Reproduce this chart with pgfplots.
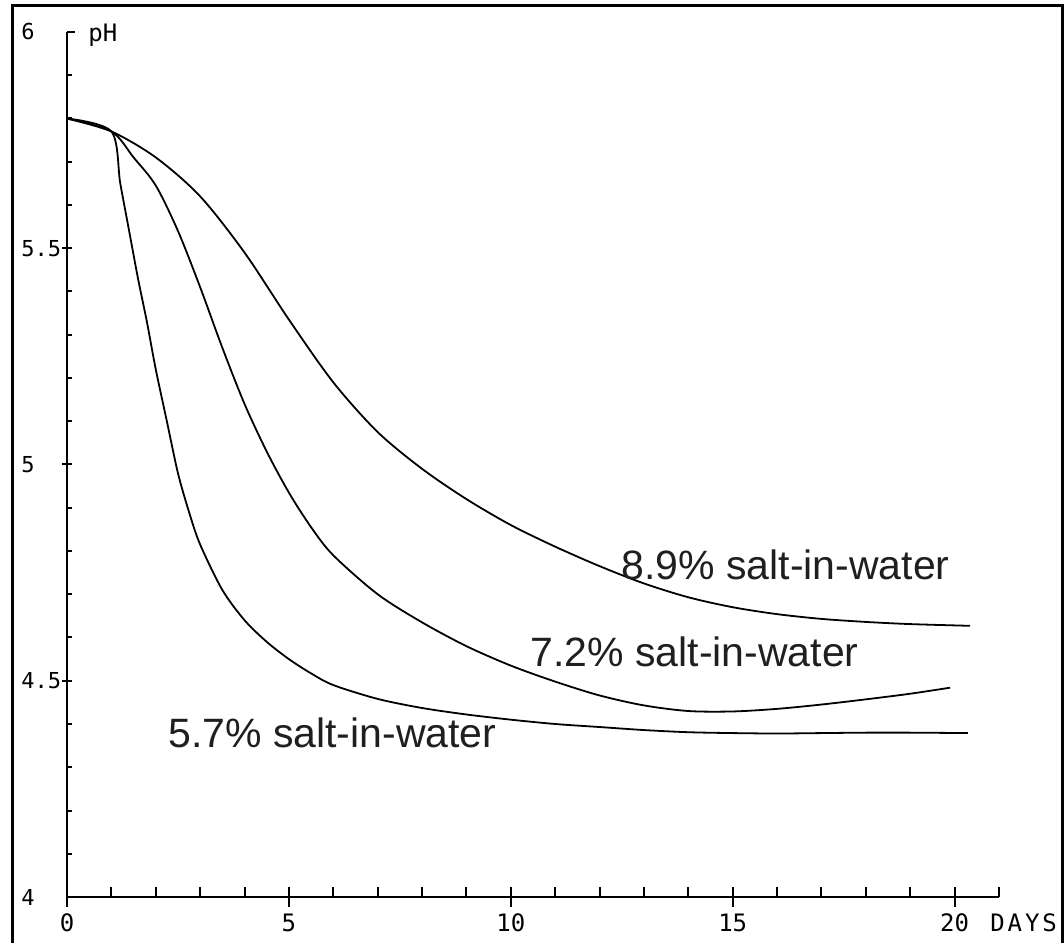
\documentclass[border=0pt]{standalone}
\usepackage{fontspec}
\setmainfont{Liberation Sans}
\newfontfamily\plotfont{DejaVu Sans Mono}
\usepackage{pgfplots}
\pgfplotsset{compat=1.18}
\begin{document}
\begin{tikzpicture}
\useasboundingbox (0,0) rectangle (532pt,471pt);
\draw[line width=1.5pt] (6pt,-10pt) rectangle (531pt,468pt);
\begin{axis}[
  at={(33.5pt,22.5pt)}, anchor=south west,
  width=466pt, height=432.5pt, scale only axis,
  xmin=0, xmax=21, ymin=4, ymax=6,
  axis lines*=left,
  axis line style={-, line width=1pt},
  clip=false,
  tick align=center,
  major tick length=10pt,
  xtick={0,5,10,15,20},
  xticklabels={0,5,10,15,20},
  xtick style={line width=1pt, black},
  xticklabel style={font=\plotfont\fontsize{12}{12}\selectfont, anchor=center, inner sep=0pt, yshift=-8pt},
  ytick={4,4.5,5,5.5,6},
  yticklabels={4,4.5,5,5.5,6},
  ytick style={draw=none},
  yticklabel style={font=\plotfont\fontsize{11}{11}\selectfont, anchor=west, inner sep=0pt, xshift=-18pt},
]
% minor x ticks (inside)
\pgfplotsinvokeforeach{1,2,3,4,6,7,8,9,11,12,13,14,16,17,18,19,21}{
  \draw[line width=1pt] (axis cs:#1,4) -- ++(0pt,5pt);
}
% y ticks
\pgfplotsinvokeforeach{4.5,5,5.5}{
  \draw[line width=1pt] (axis cs:0,#1) ++(-2.5pt,0pt) -- ++(5pt,0pt);
}
\pgfplotsinvokeforeach{4.1,4.2,4.3,4.4,4.6,4.7,4.8,4.9,5.1,5.2,5.3,5.4,5.6,5.7,5.8,5.9}{
  \draw[line width=1pt] (axis cs:0,#1) -- ++(2.5pt,0pt);
}
\draw[line width=1pt] (axis cs:0,6) -- ++(4pt,0pt);

% 8.9% salt-in-water
\addplot[black, line width=0.9pt, smooth] coordinates {
(0,5.80) (1,5.77) (2,5.71) (3,5.62) (4,5.49) (5,5.335) (6,5.19) (7,5.075)
(8,4.99) (9,4.92) (10,4.86) (11,4.81) (12,4.765) (13,4.725) (14,4.693)
(15,4.67) (16,4.654) (17,4.643) (18,4.636) (19,4.631) (20.35,4.627)
};
% 7.2% salt-in-water
\addplot[black, line width=0.9pt, smooth] coordinates {
(0,5.80) (1,5.77) (1.5,5.71) (2,5.645) (2.5,5.54) (3,5.41) (3.5,5.27)
(4,5.14) (4.5,5.03) (5,4.935) (5.5,4.855) (6,4.79) (7,4.70) (8,4.635)
(9,4.58) (10,4.535) (11,4.498) (12,4.466) (13,4.443) (14,4.43) (15,4.429)
(16,4.435) (17,4.445) (18,4.457) (19,4.47) (19.9,4.484)
};
% 5.7% salt-in-water
\addplot[black, line width=0.9pt, smooth] coordinates {
(0,5.80) (1,5.77) (1.2,5.65) (1.4,5.54) (1.6,5.43) (1.8,5.33) (2,5.22)
(2.25,5.10) (2.5,4.98) (2.75,4.89) (3,4.815) (3.5,4.71) (4,4.64) (4.5,4.59)
(5,4.55) (5.5,4.517) (6,4.49) (7,4.458) (8,4.437) (9,4.422) (10,4.41)
(11,4.40) (12,4.393) (13,4.386) (14,4.381) (15,4.379) (16,4.378) (17,4.379)
(18,4.38) (19,4.38) (20.3,4.379)
};
\end{axis}
\node[font=\plotfont\fontsize{12}{12}\selectfont, anchor=west, inner sep=0pt] at (44pt,453.5pt) {pH};
\node[font=\plotfont\fontsize{12}{12}\selectfont, anchor=west, inner sep=0pt] at (495pt,9.5pt) {\addfontfeature{LetterSpace=12}DAYS};
\node[font=\fontsize{20.5}{20.5}\selectfont, anchor=base west, inner sep=0pt, text=black!88] at (310.5pt,181pt) {8.9\% salt-in-water};
\node[font=\fontsize{20.5}{20.5}\selectfont, anchor=base west, inner sep=0pt, text=black!88] at (265pt,137.5pt) {7.2\% salt-in-water};
\node[font=\fontsize{20.5}{20.5}\selectfont, anchor=base west, inner sep=0pt, text=black!88] at (84pt,97pt) {5.7\% salt-in-water};
\end{tikzpicture}
\end{document}
